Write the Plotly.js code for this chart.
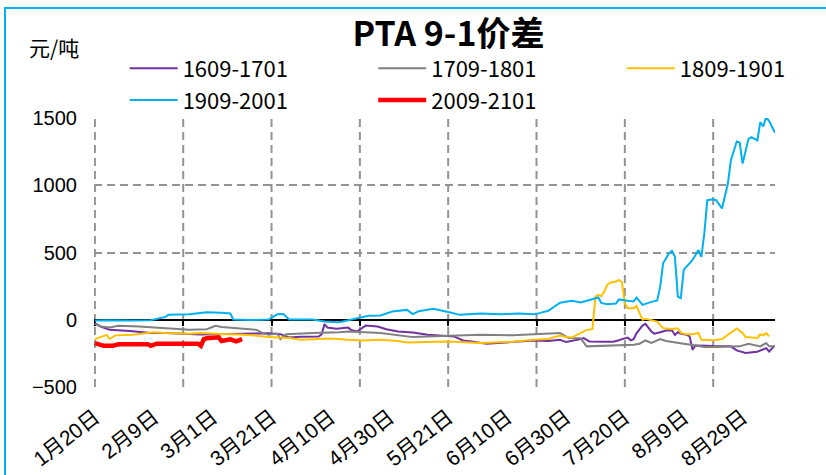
<!DOCTYPE html>
<html>
<head>
<meta charset="utf-8">
<script src="https://cdn.plot.ly/plotly-3.0.1.min.js"></script>
<style>
  html, body { margin: 0; padding: 0; background: #ffffff; }
  #wrap { position: relative; width: 826px; height: 475px; overflow: hidden; }
  #frame { position: absolute; left: 4px; top: 7px; width: 900px; height: 600px;
           border-left: 2px solid #00B0F0; border-top: 2px solid #00B0F0; pointer-events: none; z-index: 5; }
  #chart { position: absolute; left: 0; top: 0; width: 826px; height: 475px; }
</style>
</head>
<body>
<div id="wrap">
  <div id="chart"></div>
  <div id="frame"></div>
</div>
<script>
// ---- category labels (x axis: calendar category index, 0 = 1月20日) ----
const tickLabels = ['1月20日','2月9日','3月1日','3月21日','4月10日','4月30日','5月21日','6月10日','6月30日','7月20日','8月9日','8月29日'];

// ---- series names ----
const seriesNames = ['1609-1701','1709-1801','1809-1901','1909-2001','2009-2101'];

// ---- 1609-1701 (purple) ----
const x1609 = [0,2,5,12,19,24,36,47,54,59,63,66,70,74,76,77,78,79,82,86,87,89,92,96,99,103,108,113,117,122,125,128,133,140,149,154,158,160,162,165,166,168,173,176,178,179,181,182,183,184,186,187,189,190,192,194,196,197,198,199,201,202,203,204,208,211,216,218,221,225,228,229,231];
const y1609 = [-27,-52,-77,-85,-101,-100,-112,-105,-100,-102,-109,-134,-128,-126,-126,-110,-34,-60,-69,-60,-77,-89,-45,-52,-72,-89,-97,-114,-121,-126,-156,-163,-181,-171,-156,-160,-151,-168,-160,-146,-138,-163,-165,-165,-155,-146,-135,-155,-146,-101,-45,-32,-89,-105,-95,-82,-80,-115,-95,-105,-114,-125,-225,-193,-195,-200,-200,-230,-250,-240,-213,-238,-193];

// ---- 1709-1801 (gray) ----
const x1709 = [0,2,5,8,15,21,26,32,38,41,43,49,55,57,59,62,63,65,69,74,83,86,90,97,108,113,120,131,142,151,158,161,165,167,172,178,183,185,187,189,192,194,196,200,203,207,210,215,219,222,226,228,229,231];
const y1709 = [-32,-52,-60,-47,-52,-60,-72,-77,-72,-47,-55,-67,-77,-101,-114,-105,-146,-110,-105,-101,-94,-89,-92,-101,-131,-128,-121,-114,-118,-109,-101,-138,-140,-200,-195,-188,-188,-180,-156,-175,-146,-160,-165,-180,-190,-205,-205,-200,-200,-181,-200,-175,-200,-200];

// ---- 1809-1901 (orange) ----
const x1809 = [0,3,4,5,7,13,20,24,32,36,39,43,49,55,59,66,70,76,80,86,91,97,103,106,110,120,131,142,149,154,158,160,162,165,167,169,170,171,172,173,174,175,177,178,179,180,181,183,184,185,186,187,189,191,193,196,198,199,200,201,203,205,206,210,213,216,218,220,221,225,226,227,228,229];
const y1809 = [-146,-121,-114,-145,-118,-114,-95,-101,-105,-100,-105,-108,-112,-120,-131,-138,-151,-148,-142,-151,-156,-151,-160,-171,-170,-164,-175,-165,-151,-145,-120,-130,-134,-101,-77,-72,171,184,175,208,258,275,283,295,280,122,85,85,102,48,-2,5,-5,-15,-64,-70,-65,-97,-105,-110,-110,-100,-151,-155,-146,-101,-67,-100,-131,-138,-110,-118,-101,-126];

// ---- 1909-2001 (light blue) ----
const x1909 = [0,5,12,19,24,25,32,38,43,46,47,53,59,62,64,66,74,78,83,87,90,93,97,101,106,108,110,115,120,124,131,138,144,149,151,154,158,160,162,165,169,171,172,174,177,178,181,183,184,186,189,191,192,193,195,196,197,198,199,200,203,205,206,207,208,210,211,213,215,216,218,219,220,222,223,225,226,227,228,229,231];
const y1909 = [-8,-5,-8,-5,20,35,40,55,50,45,0,-3,0,40,42,0,0,-15,-20,0,10,28,30,60,72,40,62,80,57,35,45,40,45,40,48,65,125,130,140,128,152,165,124,115,120,150,140,135,164,109,132,143,245,419,494,513,470,171,160,370,444,518,468,644,890,897,890,828,1014,1187,1328,1320,1163,1348,1360,1336,1472,1440,1510,1480,1393];

// ---- 2009-2101 (red, thick) ----
const x2009 = [0,3,6,8,18,19,21,35,36,37,38,41,42,43,46,48,50];
const y2009 = [-176,-196,-196,-185,-185,-196,-180,-180,-196,-146,-140,-135,-132,-160,-148,-163,-146];

const colors = ['#7030A0','#808080','#FFC000','#00B0F0','#FF0000'];
const widths = [2, 2, 2, 2, 4.5];
const legendOf = ['legend','legend2','legend3','legend','legend2'];
const xaxisOf = ['x','x','x','x','x2'];
const xs = [x1609, x1709, x1809, x1909, x2009];
const ys = [y1609, y1709, y1809, y1909, y2009];

const traces = seriesNames.map((n, i) => ({
  type: 'scatter', mode: 'lines', name: n,
  x: xs[i], y: ys[i], xaxis: xaxisOf[i], yaxis: 'y',
  legend: legendOf[i],
  line: { color: colors[i], width: widths[i] },
  hoverinfo: 'skip'
}));

const xRange = [-0.3, 231];
const yRange = [-503, 1503];
const labelStep = 20, gridStep = 30;
const tickVals = tickLabels.map((_, i) => i * labelStep);
const gridVals = [0, 1, 2, 3, 4, 5, 6, 7].map(k => k * gridStep);
const gridColor = '#939393';
const gridDash = '8px,5px';

// vertical major gridlines, placed on the x scale at every gridStep categories
const vGrid = gridVals.map(v => ({
  type: 'line', xref: 'x', yref: 'paper', x0: v, x1: v, y0: 0, y1: 1,
  line: { color: gridColor, width: 2, dash: gridDash }, layer: 'below'
}));

const legendFont = { family: 'Liberation Sans Narrow, Noto Sans CJK SC, sans-serif', size: 22, color: '#000000' };
function mkLegend(x) {
  return {
    orientation: 'v', x: x, xanchor: 'left', y: 1.262, yanchor: 'top',
    itemwidth: 48, tracegroupgap: 0, font: legendFont,
    bgcolor: 'rgba(0,0,0,0)', borderwidth: 0
  };
}

const layout = {
  width: 826, height: 475,
  paper_bgcolor: '#ffffff', plot_bgcolor: '#ffffff',
  margin: { l: 94, r: 51, t: 118, b: 88 },
  showlegend: true,
  title: {
    text: '<b>PTA 9-1价差</b>',
    font: { family: 'Noto Sans CJK SC, sans-serif', size: 34, color: '#000000' },
    x: 0.543, xanchor: 'center', y: 0.928, yanchor: 'middle'
  },
  legend: mkLegend(0.045),
  legend2: mkLegend(0.41),
  legend3: mkLegend(0.775),
  shapes: vGrid,
  // main x axis: line + ticks drawn at y = 0
  xaxis: {
    anchor: 'free',
    position: (0 - yRange[0]) / (yRange[1] - yRange[0]),
    range: xRange, tickmode: 'array', tickvals: gridVals,
    showticklabels: false, ticks: 'outside', ticklen: 5, tickwidth: 2, tickcolor: '#000000',
    showline: true, linecolor: '#000000', linewidth: 2,
    showgrid: false, zeroline: false, layer: 'below traces', fixedrange: true
  },
  // overlay x axis: date labels at the bottom of the plot
  xaxis2: {
    overlaying: 'x', anchor: 'y', side: 'bottom',
    range: xRange, showgrid: false, zeroline: false, showline: false,
    tickmode: 'array', tickvals: tickVals, ticktext: tickLabels,
    tickangle: -38, ticks: '', ticklabelstandoff: 13,
    tickfont: { family: 'Liberation Sans, Noto Sans CJK SC, sans-serif', size: 21, color: '#000000' },
    fixedrange: true
  },
  yaxis: {
    range: yRange, tickmode: 'linear', tick0: -500, dtick: 500,
    showgrid: true, gridcolor: gridColor, gridwidth: 2, griddash: gridDash,
    zeroline: false, showline: false, ticks: '', ticklabelstandoff: 16,
    tickfont: { family: 'Liberation Sans, Arial, sans-serif', size: 20, color: '#000000' },
    fixedrange: true
  },
  annotations: [{
    text: '元/吨', xref: 'paper', yref: 'paper',
    x: -0.098, xanchor: 'left', y: 1.265, yanchor: 'middle',
    showarrow: false,
    font: { family: 'Noto Sans CJK SC, sans-serif', size: 21, color: '#000000' }
  }]
};

Plotly.newPlot('chart', traces, layout, { staticPlot: true, displayModeBar: false });
</script>
</body>
</html>
